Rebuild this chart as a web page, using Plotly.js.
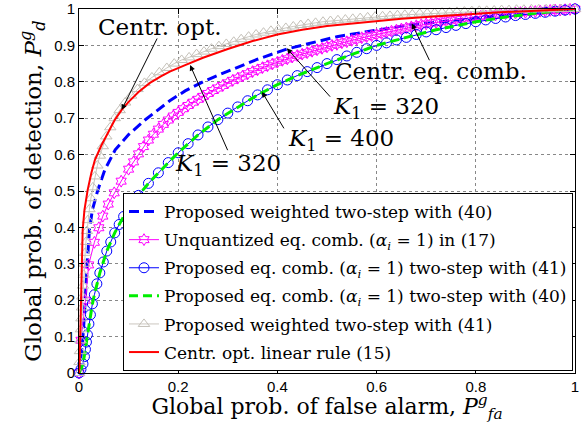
<!DOCTYPE html>
<html><head><meta charset="utf-8">
<script src="https://cdn.plot.ly/plotly-3.0.1.min.js"></script>
<style>html,body{margin:0;padding:0;background:#fff}</style>
</head><body><div id="chart" style="width:583px;height:423px"></div>
<script>
const xTickVals = [0, 0.2, 0.4, 0.6, 0.8, 1];
const xTickText = ['0', '0.2', '0.4', '0.6', '0.8', '1'];
const yTickVals = [0, 0.1, 0.2, 0.3, 0.4, 0.5, 0.6, 0.7, 0.8, 0.9, 1];
const yTickText = ['0', '0.1', '0.2', '0.3', '0.4', '0.5', '0.6', '0.7', '0.8', '0.9', '1'];

const seriesNames = [
  'Proposed weighted two-step with (40)',
  'Unquantized eq. comb. (<i>α<sub>i</sub></i> = 1) in (17)',
  'Proposed eq. comb. (<i>α<sub>i</sub></i> = 1) two-step with (41)',
  'Proposed eq. comb. (<i>α<sub>i</sub></i> = 1) two-step with (40)',
  'Proposed weighted two-step with (41)',
  'Centr. opt. linear rule (15)'
];

// Proposed weighted two-step with (40) -- blue dashed
const pfaWeighted40 = [0, 0.003, 0.006, 0.009, 0.013, 0.0175, 0.021, 0.027, 0.038, 0.052, 0.073, 0.1, 0.133, 0.16, 0.183, 0.214, 0.25, 0.284, 0.32, 0.36, 0.419, 0.47, 0.52, 0.6, 0.667, 0.75, 0.85, 0.93, 1];
const pdWeighted40 = [0, 0.03, 0.07, 0.118, 0.228, 0.32, 0.393, 0.448, 0.503, 0.558, 0.613, 0.655, 0.695, 0.725, 0.748, 0.775, 0.8, 0.82, 0.84, 0.862, 0.89, 0.908, 0.924, 0.942, 0.956, 0.968, 0.982, 0.991, 1];

// Unquantized eq. comb. (17) -- magenta hexagrams
const pfaUnquant = [0, 0.004, 0.013, 0.0195, 0.031, 0.04, 0.048, 0.059, 0.071, 0.085,
  0.10, 0.11, 0.12, 0.13, 0.14, 0.15, 0.16, 0.17, 0.18, 0.19, 0.20, 0.21, 0.22, 0.23, 0.24, 0.25, 0.26, 0.27, 0.28, 0.29,
  0.30, 0.31, 0.32, 0.33, 0.34, 0.35, 0.36, 0.37, 0.38, 0.39, 0.40, 0.41, 0.42, 0.43, 0.44, 0.45, 0.46, 0.47, 0.48, 0.49,
  0.50, 0.51, 0.52, 0.53, 0.54, 0.55, 0.56, 0.57, 0.58, 0.59, 0.60, 0.61, 0.62, 0.63, 0.64, 0.65, 0.66, 0.67, 0.68, 0.69,
  0.70, 0.71, 0.72, 0.73, 0.74, 0.75, 0.76, 0.77, 0.78, 0.79, 0.80, 0.81, 0.82, 0.83, 0.84, 0.85, 0.86, 0.87, 0.88, 0.89,
  0.90, 0.91, 0.92, 0.93, 0.94, 0.95, 0.96, 0.97, 0.98, 0.99, 1.00];
const pdUnquant = [0, 0.09, 0.2, 0.297, 0.359, 0.399, 0.431, 0.464, 0.495, 0.527,
  0.56, 0.58, 0.602, 0.622, 0.64, 0.656, 0.67, 0.683, 0.695, 0.706, 0.716, 0.726, 0.735, 0.744, 0.752, 0.76, 0.768, 0.776, 0.783, 0.79,
  0.797, 0.804, 0.81, 0.816, 0.822, 0.828, 0.833, 0.839, 0.844, 0.849, 0.854, 0.859, 0.863, 0.868, 0.872, 0.876, 0.88, 0.884, 0.888, 0.892,
  0.896, 0.9, 0.903, 0.907, 0.91, 0.914, 0.917, 0.921, 0.924, 0.927, 0.93, 0.933, 0.936, 0.939, 0.942, 0.945, 0.948, 0.951, 0.954, 0.957,
  0.959, 0.961, 0.963, 0.965, 0.967, 0.969, 0.971, 0.973, 0.975, 0.977, 0.978, 0.98, 0.981, 0.983, 0.984, 0.986, 0.987, 0.988, 0.989, 0.99,
  0.991, 0.992, 0.993, 0.994, 0.995, 0.996, 0.997, 0.997, 0.998, 0.999, 1];

// Proposed eq. comb. two-step with (41) -- blue circles
const pfaEq41 = [0, 0.004, 0.008, 0.011, 0.013, 0.015, 0.017, 0.02, 0.023, 0.027, 0.031, 0.036, 0.042, 0.049, 0.056, 0.064, 0.072, 0.081, 0.09,
  0.10, 0.12, 0.14, 0.16, 0.18, 0.20, 0.22, 0.24, 0.26, 0.28, 0.30, 0.32, 0.34, 0.36, 0.38, 0.40, 0.42, 0.44, 0.46, 0.48,
  0.50, 0.52, 0.54, 0.56, 0.58, 0.60, 0.62, 0.64, 0.66, 0.68, 0.70, 0.72, 0.74, 0.76, 0.78, 0.80, 0.82, 0.84, 0.86, 0.88,
  0.90, 0.92, 0.94, 0.96, 0.98, 1.00];
const pdEq41 = [0, 0.01, 0.025, 0.045, 0.065, 0.085, 0.105, 0.135, 0.16, 0.19, 0.215, 0.245, 0.275, 0.305, 0.335, 0.36, 0.385, 0.408, 0.43,
  0.45, 0.488, 0.521, 0.55, 0.578, 0.605, 0.63, 0.654, 0.676, 0.696, 0.714, 0.731, 0.748, 0.764, 0.778, 0.792, 0.805, 0.817, 0.828, 0.839,
  0.85, 0.861, 0.871, 0.881, 0.891, 0.9, 0.907, 0.915, 0.922, 0.93, 0.937, 0.943, 0.949, 0.955, 0.96, 0.965, 0.97, 0.974, 0.978, 0.982,
  0.985, 0.988, 0.991, 0.994, 0.997, 1];

// Proposed eq. comb. two-step with (40) -- green dashed
const pfaEq40 = [0, 0.004, 0.008, 0.011, 0.013, 0.015, 0.017, 0.02, 0.023, 0.027, 0.031, 0.036, 0.042, 0.049, 0.056, 0.064, 0.072, 0.081, 0.09, 0.1, 0.12, 0.14, 0.16, 0.18, 0.2, 0.24, 0.28, 0.32, 0.36, 0.4, 0.44, 0.5, 0.56, 0.6, 0.66, 0.72, 0.8, 0.86, 0.92, 1];
const pdEq40 = [0, 0.01, 0.025, 0.045, 0.065, 0.085, 0.105, 0.135, 0.16, 0.19, 0.215, 0.245, 0.275, 0.305, 0.335, 0.36, 0.385, 0.408, 0.43, 0.45, 0.488, 0.521, 0.55, 0.578, 0.605, 0.654, 0.696, 0.731, 0.764, 0.792, 0.817, 0.85, 0.881, 0.9, 0.922, 0.943, 0.965, 0.978, 0.988, 1];

// Proposed weighted two-step with (41) -- gray triangles
const pfaWeighted41 = [0, 0.001, 0.002, 0.003, 0.004, 0.005, 0.006, 0.007, 0.008, 0.0095, 0.011, 0.0125, 0.014, 0.016, 0.018, 0.021, 0.024, 0.028, 0.032, 0.037,
  0.042, 0.048, 0.055, 0.063, 0.072, 0.082, 0.093, 0.105, 0.118, 0.132, 0.147, 0.162, 0.177, 0.192, 0.207,
  0.222, 0.237, 0.252, 0.267, 0.282, 0.297, 0.312, 0.327, 0.342, 0.357, 0.372, 0.387, 0.402, 0.417, 0.432, 0.447, 0.462, 0.477, 0.492,
  0.507, 0.522, 0.537, 0.552, 0.567, 0.582, 0.597, 0.612, 0.627, 0.642, 0.657, 0.672, 0.687, 0.702, 0.717, 0.732, 0.747, 0.762, 0.777, 0.792,
  0.807, 0.822, 0.837, 0.852, 0.867, 0.882, 0.897, 0.912, 0.927, 0.942, 0.957, 0.972, 0.987, 1.0];
const pdWeighted41 = [0, 0.03, 0.06, 0.09, 0.12, 0.15, 0.18, 0.21, 0.24, 0.27, 0.3, 0.33, 0.36, 0.39, 0.42, 0.45, 0.48, 0.51, 0.54, 0.57,
  0.597, 0.623, 0.65, 0.675, 0.7, 0.722, 0.743, 0.762, 0.78, 0.797, 0.812, 0.826, 0.838, 0.85, 0.86,
  0.867, 0.876, 0.883, 0.891, 0.898, 0.904, 0.91, 0.917, 0.924, 0.93, 0.935, 0.94, 0.944, 0.948, 0.952, 0.956, 0.959, 0.962, 0.965,
  0.967, 0.969, 0.971, 0.973, 0.975, 0.977, 0.979, 0.98, 0.981, 0.983, 0.984, 0.985, 0.987, 0.988, 0.989, 0.99, 0.991, 0.992, 0.993, 0.994,
  0.995, 0.995, 0.996, 0.997, 0.997, 0.998, 0.998, 0.999, 0.999, 0.999, 1, 1, 1, 1];

// Centr. opt. linear rule (15) -- red
const pfaCentrOpt = [0, 0.001, 0.002, 0.003, 0.0054, 0.0074, 0.011, 0.0175, 0.025, 0.032, 0.045, 0.058, 0.072, 0.086, 0.1, 0.12, 0.143, 0.165, 0.183, 0.214, 0.25, 0.3, 0.35, 0.4, 0.45, 0.5, 0.55, 0.6, 0.65, 0.7, 0.75, 0.8, 0.85, 0.9, 0.95, 1];
const pdCentrOpt = [0, 0.016, 0.07, 0.137, 0.275, 0.393, 0.448, 0.503, 0.55, 0.585, 0.625, 0.66, 0.695, 0.723, 0.745, 0.772, 0.797, 0.815, 0.828, 0.846, 0.866, 0.89, 0.912, 0.93, 0.943, 0.953, 0.96, 0.967, 0.973, 0.978, 0.983, 0.987, 0.991, 0.994, 0.997, 1];

const serif = 'DejaVu Serif';
const traces = [
  {x: pfaWeighted40, y: pdWeighted40, name: seriesNames[0], mode: 'lines', legendgroup: 'a',
   line: {color: '#0000ff', width: 3, dash: '10px,5px'}},
  {x: pfaUnquant, y: pdUnquant, name: seriesNames[1], mode: 'lines+markers', legendgroup: 'b',
   line: {color: '#ff00ff', width: 1},
   marker: {symbol: 'hexagram-open', size: 9, color: '#ff00ff', line: {width: 1, color: '#ff00ff'}}},
  {x: pfaEq41, y: pdEq41, name: seriesNames[2], mode: 'lines+markers', legendgroup: 'c',
   line: {color: '#0000ff', width: 1},
   marker: {symbol: 'circle-open', size: 10, color: '#0000ff', line: {width: 1, color: '#0000ff'}}},
  {x: pfaEq40, y: pdEq40, name: seriesNames[3], mode: 'lines', legendgroup: 'd',
   line: {color: '#00ee00', width: 3, dash: '9px,5px'}},
  {x: pfaWeighted41, y: pdWeighted41, name: seriesNames[4], mode: 'lines+markers', legendgroup: 'e',
   line: {color: '#cbc7bf', width: 1},
   marker: {symbol: 'triangle-up-open', size: 10, color: '#c4c0b8', line: {width: 1, color: '#c4c0b8'}}},
  {x: pfaCentrOpt, y: pdCentrOpt, name: seriesNames[5], mode: 'lines', legendgroup: 'f',
   line: {color: '#ff0000', width: 2}}
];
traces.forEach(t => { t.cliponaxis = false; });

function arrow(tx, ty, sx, sy) {
  return {x: tx, y: ty, ax: sx, ay: sy, xref: 'x', yref: 'y', axref: 'x', ayref: 'y',
          text: '', showarrow: true, arrowhead: 2, arrowsize: 1.1, arrowwidth: 1, arrowcolor: '#000'};
}
function label(x, y, text) {
  return {x: x, y: y, xref: 'x', yref: 'y', text: text, showarrow: false,
          font: {family: serif, size: 23, color: '#000'}};
}

const layout = {
  width: 583, height: 423,
  margin: {l: 79, r: 8, t: 9, b: 50},
  paper_bgcolor: '#fff', plot_bgcolor: '#fff',
  showlegend: true,
  xaxis: {
    range: [0, 1], tickvals: xTickVals, ticktext: xTickText,
    showline: true, linecolor: '#000', linewidth: 1, mirror: 'ticks',
    ticks: 'inside', ticklen: 5, tickcolor: '#000',
    showgrid: true, gridcolor: '#888', griddash: 'dot', gridwidth: 1, zeroline: false,
    tickfont: {family: 'Liberation Sans', size: 15, color: '#000'},
    title: {text: 'Global prob. of false alarm, <i>P</i><sup><i>g</i></sup><sub><i>fa</i></sub>',
            font: {family: serif, size: 22, color: '#000'}, standoff: 8}
  },
  yaxis: {
    range: [0, 1], tickvals: yTickVals, ticktext: yTickText,
    showline: true, linecolor: '#000', linewidth: 1, mirror: 'ticks',
    ticks: 'inside', ticklen: 5, tickcolor: '#000',
    showgrid: true, gridcolor: '#888', griddash: 'dot', gridwidth: 1, zeroline: false,
    tickfont: {family: 'Liberation Sans', size: 15, color: '#000'},
    title: {text: 'Global prob. of detection, <i>P</i><sup><i>g</i></sup><sub><i>d</i></sub>',
            font: {family: serif, size: 23, color: '#000'}, standoff: 6}
  },
  legend: {
    x: 0.0887, y: 0.4945, xanchor: 'left', yanchor: 'top',
    bgcolor: '#fff', bordercolor: '#000', borderwidth: 1,
    font: {family: serif, size: 17, color: '#000'},
    traceorder: 'grouped', tracegroupgap: 3, itemwidth: 30
  },
  annotations: [
    arrow(0.086, 0.723, 0.159, 0.923),
    label(0.163, 0.95, 'Centr. opt.'),
    arrow(0.224, 0.846, 0.301, 0.608),
    label(0.30, 0.572, '<i>K</i><sub>1</sub> = 320'),
    arrow(0.369, 0.772, 0.415, 0.668),
    label(0.528, 0.64, '<i>K</i><sub>1</sub> = 400'),
    arrow(0.419, 0.892, 0.509, 0.755),
    label(0.619, 0.728, '<i>K</i><sub>1</sub> = 320'),
    arrow(0.671, 0.96, 0.708, 0.855),
    label(0.71, 0.83, 'Centr. eq. comb.')
  ]
};

Plotly.newPlot('chart', traces, layout, {staticPlot: true, displayModeBar: false});
</script>
</body></html>
